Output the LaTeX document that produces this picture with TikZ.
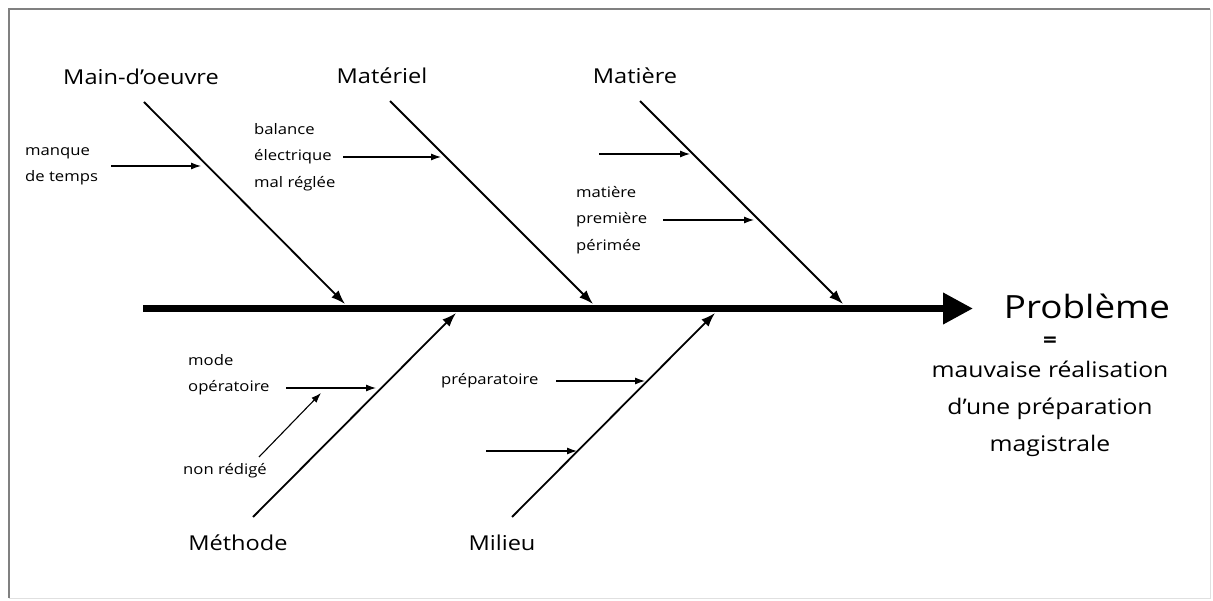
\documentclass[tikz,border=0pt]{standalone}
\usepackage{fontspec}
\setmainfont[FakeStretch=1.15]{Open Sans}
\usetikzlibrary{arrows.meta}
\begin{document}
\begin{tikzpicture}[x=1pt,y=-1pt,
  branch/.style={line width=1.8pt, -{Latex[length=14pt,width=10pt]}},
  sub/.style={line width=1.1pt, -{Latex[length=10pt,width=7pt]}},
  spine/.style={line width=7pt, -{Triangle[length=30pt,width=30pt]}},
  cat/.style={font=\fontsize{20.5}{24}\selectfont, inner sep=0pt},
  cause/.style={font=\fontsize{14.5}{26.5}\selectfont, align=left, anchor=west, inner sep=0pt},
  prob/.style={font=\fontsize{21.5}{37}\selectfont, align=center, inner sep=0pt}]
\useasboundingbox (0,0) rectangle (1213,601);
% frame
\draw[line width=0.8pt, black!12] (1210,9) -- (1210,598) -- (9,598);
\draw[line width=2.5pt, black!50] (9,598) -- (9,9) -- (1210,9);

% spine
\coordinate (spL) at (143,308.5);
\coordinate (spR) at (973,308.5);
\draw[spine] (spL) -- (spR);
\node[font=\fontsize{32}{36}\selectfont, inner sep=0pt] (probleme) at (1087,306) {Problème};
\node[font=\fontsize{21}{24}\selectfont\bfseries, inner sep=0pt] (eq) at (1050,342) {=};
\node[prob] (desc) at (1050,409) {mauvaise réalisation\\d’une préparation\\magistrale};

% category labels
\node[cat] (mo) at (141,77) {Main-d’oeuvre};
\node[cat] (mat) at (382,76) {Matériel};
\node[cat] (mt) at (635,76) {Matière};
\node[cat] (me) at (238,543) {Méthode};
\node[cat] (mi) at (502,543) {Milieu};

% branch coordinates
\coordinate (moA) at (144,102); \coordinate (moB) at (345,304);
\coordinate (matA) at (390,101); \coordinate (matB) at (593,304);
\coordinate (mtA) at (640,101); \coordinate (mtB) at (843,304);
\coordinate (meA) at (253,517); \coordinate (meB) at (456,313);
\coordinate (miA) at (512,517); \coordinate (miB) at (715,313);
\draw[branch] (moA) -- (moB);
\draw[branch] (matA) -- (matB);
\draw[branch] (mtA) -- (mtB);
\draw[branch] (meA) -- (meB);
\draw[branch] (miA) -- (miB);

% causes
\node[cause] (manque) at (25,166.5) {manque\\de temps};
\node[cause] (balance) at (254,157) {balance\\électrique\\mal réglée};
\node[cause] (premiere) at (576,220) {matière\\première\\périmée};
\node[cause] (mode) at (188,374.5) {mode\\opératoire};
\node[cause] (nonred) at (183,471) {non rédigé};
\node[cause] (prep) at (441,381) {préparatoire};

% cause arrows
\coordinate (c1a) at (111,166); \coordinate (c1b) at (201,166);
\coordinate (c2a) at (343,157); \coordinate (c2b) at (441,157);
\coordinate (c3a) at (599,154); \coordinate (c3b) at (690,154);
\coordinate (c4a) at (663,220); \coordinate (c4b) at (754,220);
\coordinate (c5a) at (286,388); \coordinate (c5b) at (376,388);
\coordinate (c6a) at (259,457); \coordinate (c6b) at (321,393);
\coordinate (c7a) at (556,381); \coordinate (c7b) at (645,381);
\coordinate (c8a) at (486,451); \coordinate (c8b) at (577,451);
\draw[sub] (c1a) -- (c1b);
\draw[sub] (c2a) -- (c2b);
\draw[sub] (c3a) -- (c3b);
\draw[sub] (c4a) -- (c4b);
\draw[sub] (c5a) -- (c5b);
\draw[sub] (c6a) -- (c6b);
\draw[sub] (c7a) -- (c7b);
\draw[sub] (c8a) -- (c8b);
\end{tikzpicture}
\end{document}
